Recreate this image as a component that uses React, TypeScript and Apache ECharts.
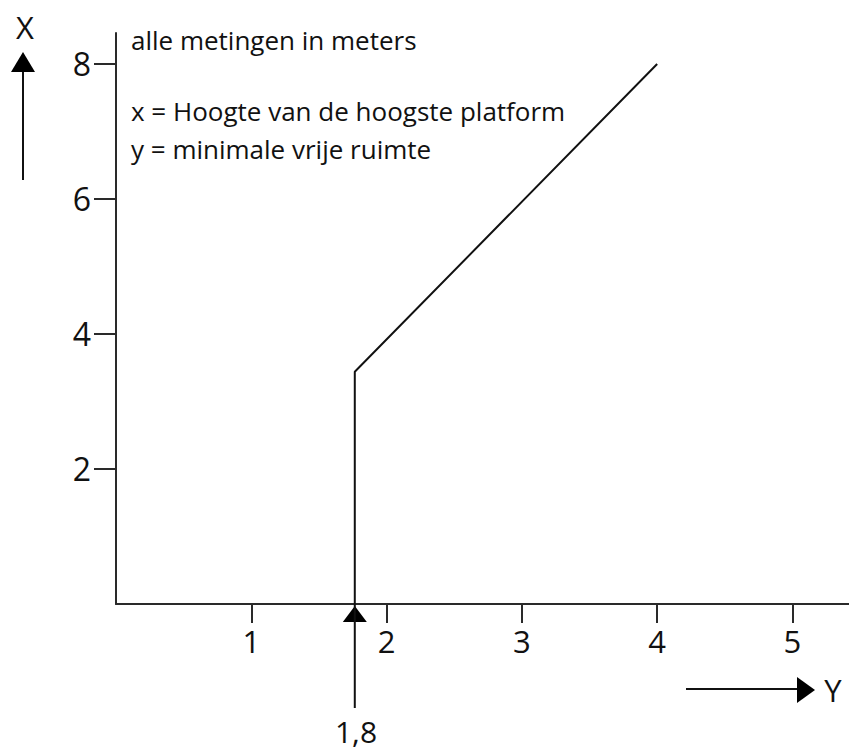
import React, { useEffect, useRef } from "react";
import * as echarts from "echarts";

// ---- data ----
const X_TICKS = [1, 2, 3, 4, 5];
const Y_TICKS = [2, 4, 6, 8];
const X_MAX = 5.418;
const Y_MAX = 8.459;
const CURVE_X = [1.765, 1.765, 4];
const CURVE_Y = [-1.54, 3.44, 8];
const MARKER_POINT = [1.765, 0];
const MARKER_LABEL = "1,8";
const NOTES = [
  "alle metingen in meters",
  "x = Hoogte van de hoogste platform",
  "y = minimale vrije ruimte",
];
const X_NAME = "X";
const Y_NAME = "Y";

// ---- styles ----
const INK = "#111111";
const AXIS = "#2a2a2a";
const FONT = '"Open Sans", "Noto Sans", sans-serif';
const NOTE_Y = [40, 111, 149];

export default function App() {
  const ref = useRef<HTMLDivElement>(null);
  useEffect(() => {
    document.body.style.margin = "0";
    const chart = echarts.init(ref.current!, null, { renderer: "svg" });
    const curve = CURVE_X.map((x, i) => [x, CURVE_Y[i]]);
    chart.setOption({
      animation: false,
      backgroundColor: "#ffffff",
      grid: { left: 116, right: 0, top: 33, bottom: 147, containLabel: false },
      xAxis: {
        type: "value",
        min: 0,
        max: X_MAX,
        splitLine: { show: false },
        axisLine: { show: true, lineStyle: { color: AXIS, width: 2 } },
        axisTick: {
          show: true,
          customValues: X_TICKS,
          length: 19,
          inside: false,
          lineStyle: { color: AXIS, width: 2 },
        },
        axisLabel: {
          customValues: X_TICKS,
          margin: 21,
          color: INK,
          fontSize: 31,
          fontFamily: FONT,
        },
      },
      yAxis: {
        type: "value",
        min: 0,
        max: Y_MAX,
        splitLine: { show: false },
        axisLine: { show: true, lineStyle: { color: AXIS, width: 2 } },
        axisTick: {
          show: true,
          customValues: Y_TICKS,
          length: 22,
          inside: false,
          lineStyle: { color: AXIS, width: 2 },
        },
        axisLabel: {
          customValues: Y_TICKS,
          margin: 25,
          color: INK,
          fontSize: 32,
          fontFamily: FONT,
        },
      },
      series: [
        {
          type: "line",
          data: curve,
          clip: false,
          showSymbol: false,
          symbol: "none",
          lineStyle: { color: INK, width: 2 },
          silent: true,
        },
        {
          type: "scatter",
          data: [MARKER_POINT],
          clip: false,
          symbol: "triangle",
          symbolSize: [24, 16],
          symbolOffset: [0, 10],
          itemStyle: { color: "#000000", opacity: 1 },
          silent: true,
        },
      ],
      graphic: [
        {
          type: "line",
          shape: { x1: 23, y1: 180, x2: 23, y2: 68 },
          style: { stroke: INK, lineWidth: 2 },
        },
        {
          type: "polygon",
          shape: { points: [[23, 52], [11, 72], [35, 72]] },
          style: { fill: "#000000" },
        },
        {
          type: "text",
          x: 25,
          y: 27,
          style: {
            text: X_NAME,
            fill: INK,
            fontSize: 31,
            fontFamily: FONT,
            align: "center",
            verticalAlign: "middle",
          },
        },
        {
          type: "line",
          shape: { x1: 686, y1: 689, x2: 800, y2: 689 },
          style: { stroke: INK, lineWidth: 2 },
        },
        {
          type: "polygon",
          shape: { points: [[815, 690], [797, 677], [797, 703]] },
          style: { fill: "#000000" },
        },
        {
          type: "text",
          x: 833,
          y: 690,
          style: {
            text: Y_NAME,
            fill: INK,
            fontSize: 31,
            fontFamily: FONT,
            align: "center",
            verticalAlign: "middle",
          },
        },
        {
          type: "text",
          x: 356,
          y: 731,
          style: {
            text: MARKER_LABEL,
            fill: INK,
            fontSize: 30,
            fontFamily: FONT,
            align: "center",
            verticalAlign: "middle",
          },
        },
        ...NOTES.map((t, i) => ({
          type: "text",
          x: 131,
          y: NOTE_Y[i],
          style: {
            text: t,
            fill: INK,
            fontSize: 26,
            fontFamily: FONT,
            align: "left",
            verticalAlign: "middle",
          },
        })),
      ],
    });
    return () => chart.dispose();
  }, []);
  return <div ref={ref} style={{ width: 849, height: 751 }} />;
}
